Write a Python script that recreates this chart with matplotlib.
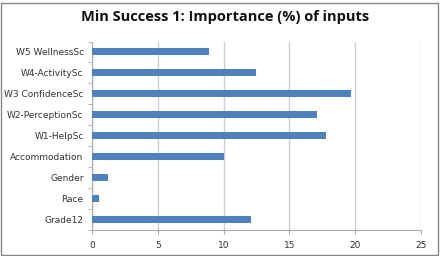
import matplotlib
matplotlib.use("Agg")
import matplotlib.pyplot as plt
import numpy as np

categories = ["W5 WellnessSc", "W4-ActivitySc", "W3 ConfidenceSc", "W2-PerceptionSc",
              "W1-HelpSc", "Accommodation", "Gender", "Race", "Grade12"]
values = [8.9, 12.45, 19.7, 17.1, 17.8, 10.0, 1.25, 0.5, 12.1]
xticks = [0, 5, 10, 15, 20, 25]

W, H = 441, 256
fig = plt.figure(figsize=(W/100, H/100), dpi=100)
fig.patch.set_facecolor("white")
ax = fig.add_axes([92/W, 1-229.5/H, (421-92)/W, (229.5-41.5)/H])

y = np.arange(len(categories))
ax.barh(y, values, height=0.34, color="#4F81BD", zorder=3)
ax.set_ylim(len(categories)-0.5, -0.5)
ax.set_xlim(0, 25)
ax.set_xticks(xticks)
ax.set_yticks(y)
ax.set_yticklabels(categories)
ax.set_yticks(np.arange(-0.5, len(categories), 1), minor=True)
ax.tick_params(axis="y", which="major", length=0, pad=6, labelsize=6.5, labelcolor="#333333")
ax.tick_params(axis="y", which="minor", length=3, color="#aaaaaa")
ax.tick_params(axis="x", length=3, color="#aaaaaa", labelsize=6.5, labelcolor="#333333", pad=5)
ax.grid(axis="x", color="#cfcfcf", linewidth=1, zorder=0)
for s in ["top", "right"]:
    ax.spines[s].set_visible(False)
ax.spines["left"].set_color("#aaaaaa")
ax.spines["bottom"].set_color("#aaaaaa")

fig.text(0.51, 1-17/H, "Min Success 1: Importance (%) of inputs", ha="center", va="center",
         fontsize=10.5, fontweight="bold", family="Open Sans", color="#111111")

border = plt.Rectangle((1/W, 1/H), 437/W, 252/H, transform=fig.transFigure,
                       fill=False, edgecolor="#888888", linewidth=1)
fig.patches.append(border)

fig.savefig("out.png", dpi=100)
